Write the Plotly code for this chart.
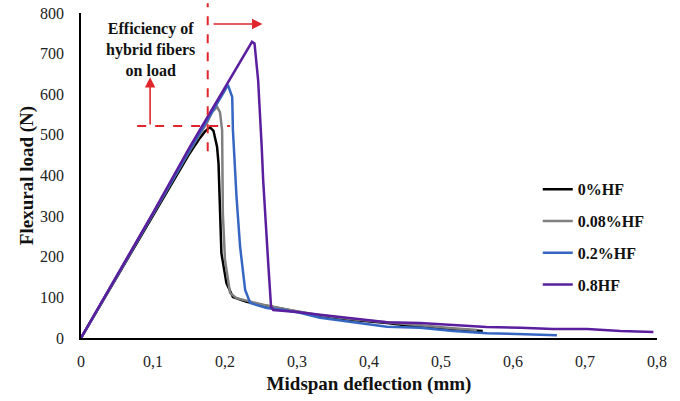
import plotly.graph_objects as go

# ---------------- data ----------------
hf0_x = [0, 0.05, 0.10, 0.15, 0.165, 0.172, 0.179, 0.184, 0.189, 0.191, 0.195, 0.202, 0.211, 0.230,
         0.25, 0.286, 0.332, 0.378, 0.425, 0.471, 0.517, 0.558]
hf0_y = [0, 150, 300, 452, 492, 508, 519, 510, 470, 430, 209, 135, 101, 89,
         82, 69, 54, 44, 37, 27, 22, 17]

hf008_x = [0, 0.05, 0.10, 0.15, 0.175, 0.182, 0.189, 0.193, 0.196, 0.197, 0.200, 0.207, 0.216, 0.235,
           0.253, 0.286, 0.332, 0.378, 0.425, 0.471, 0.517, 0.55]
hf008_y = [0, 152, 305, 458, 530, 556, 569, 556, 512, 307, 192, 111, 98, 89,
           82, 70, 56, 46, 38, 30, 24, 20]

hf02_x = [0, 0.05, 0.10, 0.15, 0.19, 0.200, 0.204, 0.210, 0.211, 0.216, 0.221, 0.228, 0.235, 0.258,
          0.281, 0.304, 0.332, 0.378, 0.425, 0.471, 0.517, 0.564, 0.61, 0.64, 0.661]
hf02_y = [0, 152, 306, 460, 578, 610, 623, 593, 512, 347, 224, 118, 86, 74,
          69, 62, 50, 40, 28, 25, 17, 12, 10, 9, 7]

hf08_x = [0, 0.05, 0.10, 0.151, 0.19, 0.215, 0.2375, 0.241, 0.244, 0.246, 0.251, 0.253, 0.260, 0.264,
          0.267, 0.30, 0.332, 0.378, 0.425, 0.471, 0.517, 0.563, 0.61, 0.656, 0.703, 0.749, 0.795]
hf08_y = [0, 154, 308, 470, 586, 662, 729, 725, 667, 635, 470, 389, 185, 76,
          69, 64, 57, 49, 39, 37, 32, 27, 25, 22, 22, 17, 15]

series_names = ["0%HF", "0.08%HF", "0.2%HF", "0.8HF"]
series_colors = ["#000000", "#808080", "#3566c2", "#5a1e9e"]

x_tick_vals = [0, 0.1, 0.2, 0.3, 0.4, 0.5, 0.6, 0.7, 0.8]
x_tick_text = ["0", "0,1", "0,2", "0,3", "0,4", "0,5", "0,6", "0,7", "0,8"]
y_tick_vals = [0, 100, 200, 300, 400, 500, 600, 700, 800]

# annotation geometry (data units)
marker_x = 0.176        # vertical dashed line
marker_y = 522          # horizontal dashed line
hline_x0, hline_x1 = 0.078, 0.207
up_arrow_x, up_arrow_y0, up_arrow_y1 = 0.096, 522, 642
right_arrow_y, right_arrow_x0, right_arrow_x1 = 773, 0.182, 0.252
label_x, label_y = 0.096, 711

SERIF = "Liberation Serif, Times New Roman, serif"
RED = "#e0262b"

fig = go.Figure()
xs = [hf0_x, hf008_x, hf02_x, hf08_x]
ys = [hf0_y, hf008_y, hf02_y, hf08_y]
for i, (xv, yv) in enumerate(zip(xs, ys)):
    fig.add_trace(go.Scatter(x=xv, y=yv, mode="lines", name="<b>" + series_names[i] + "</b>",
                             legendgroup=series_names[i],
                             line=dict(color=series_colors[i], width=2.5)))

# dashed lines
fig.add_shape(type="line", xref="x", yref="paper", x0=marker_x, x1=marker_x, y0=(460 / 800), y1=1.03,
              line=dict(color=RED, width=2, dash="dash"))
fig.add_shape(type="line", xref="x", yref="y", x0=hline_x0, x1=hline_x1, y0=marker_y, y1=marker_y,
              line=dict(color=RED, width=2, dash="dash"))

# arrows
fig.add_annotation(x=up_arrow_x, y=up_arrow_y1, ax=up_arrow_x, ay=up_arrow_y0,
                   xref="x", yref="y", axref="x", ayref="y", text="", showarrow=True,
                   arrowhead=2, arrowsize=1.3, arrowwidth=1.6, arrowcolor=RED)
fig.add_annotation(x=right_arrow_x1, y=right_arrow_y, ax=right_arrow_x0, ay=right_arrow_y,
                   xref="x", yref="y", axref="x", ayref="y", text="", showarrow=True,
                   arrowhead=2, arrowsize=1.3, arrowwidth=1.6, arrowcolor=RED)

fig.add_annotation(x=label_x, y=label_y, xref="x", yref="y", showarrow=False,
                   text="<b>Efficiency of<br>hybrid fibers<br>on load</b>",
                   font=dict(family=SERIF, size=16, color="#111"), align="center")

fig.update_layout(
    width=680, height=401,
    margin=dict(l=81, r=23, t=13, b=63),
    plot_bgcolor="white", paper_bgcolor="white",
    font=dict(family=SERIF, color="#222"),
    showlegend=True,
    legend=dict(x=0.793, y=0.51, xanchor="left", yanchor="top",
                font=dict(family=SERIF, size=16, color="#111"),
                tracegroupgap=8, bgcolor="rgba(0,0,0,0)", itemwidth=30),
    xaxis=dict(range=[0, 0.8], tickvals=x_tick_vals, ticktext=x_tick_text, automargin=False,
               showgrid=False, zeroline=False, showline=True, linecolor="black", linewidth=1.5,
               ticks="", tickfont=dict(family=SERIF, size=16, color="#222"), ticklabelstandoff=8,
               title=dict(text="<b>Midspan deflection (mm)</b>", font=dict(family=SERIF, size=19, color="#111"),
                          standoff=8)),
    yaxis=dict(range=[0, 800], tickvals=y_tick_vals, automargin=False,
               showgrid=False, zeroline=False, showline=True, linecolor="black", linewidth=1.5,
               ticks="", tickfont=dict(family=SERIF, size=16, color="#222"), ticklabelstandoff=12,
               title=dict(text="<b>Flexural load (N)</b>", font=dict(family=SERIF, size=19, color="#111"),
                          standoff=1)),
)

# remove the browser's default 8px body margin so the figure fills the window exactly
fig.write_html("out.html", config={"displayModeBar": False},
               post_script="document.body.style.margin='0';")
